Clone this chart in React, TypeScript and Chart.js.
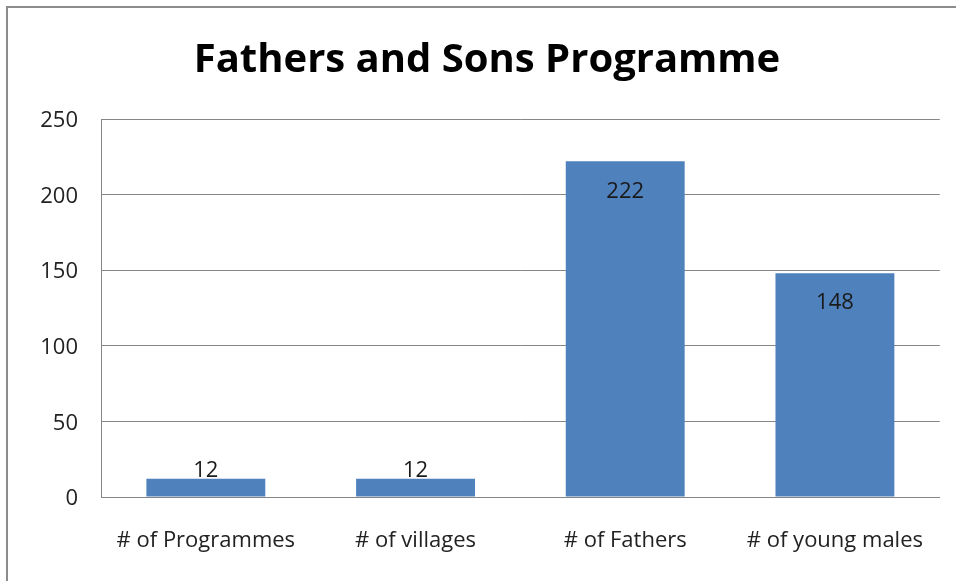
import React, { useEffect, useRef } from "react";
import { Chart, registerables } from "chart.js";

Chart.register(...registerables);

const categories = ["# of Programmes", "# of villages", "# of Fathers", "# of young males"];
const values = [12, 12, 222, 148];
const titleText = "Fathers and Sons Programme";
const yTicksMax = 250;
const yTicksStep = 50;

const FONT = "'Open Sans', Lato, sans-serif";

const labelPlugin = {
  id: "barLabels",
  afterDatasetsDraw(chart: any) {
    const ctx = chart.ctx;
    const meta = chart.getDatasetMeta(0);
    ctx.save();
    ctx.font = `22px ${FONT}`;
    ctx.fillStyle = "#1a1a1a";
    ctx.textAlign = "center";
    ctx.textBaseline = "middle";
    meta.data.forEach((bar: any, i: number) => {
      const h = bar.base - bar.y;
      const y = h > 50 ? bar.y + 30 : bar.y - 8;
      ctx.fillText(String(values[i]), bar.x, y);
    });
    ctx.restore();
  },
};

export default function App() {
  const ref = useRef<HTMLCanvasElement>(null);
  useEffect(() => {
    if (!ref.current) return;
    const chart = new Chart(ref.current, {
      type: "bar",
      data: {
        labels: categories,
        datasets: [
          {
            data: values,
            backgroundColor: "#4F81BD",
            borderWidth: 0,
            barPercentage: 0.567,
            categoryPercentage: 1,
          },
        ],
      },
      options: {
        animation: false,
        responsive: false,
        maintainAspectRatio: false,
        layout: { padding: { left: 34, right: 16, top: 37, bottom: 0 } },
        plugins: {
          legend: { display: false },
          tooltip: { enabled: false },
          title: {
            display: true,
            text: titleText,
            color: "#000",
            font: { family: FONT, size: 40, weight: "bold", lineHeight: 1.2 },
            padding: { top: 0, bottom: 34 },
          },
        },
        scales: {
          x: {
            grid: { display: false, drawTicks: false },
            border: { display: true, color: "#868686", width: 1 },
            ticks: { color: "#222", font: { family: FONT, size: 22 }, padding: 31, maxRotation: 0 },
            afterFit(scale: any) {
              scale.height = 84;
            },
          },
          y: {
            min: 0,
            max: yTicksMax,
            ticks: { stepSize: yTicksStep, color: "#222", font: { family: FONT, size: 22 }, padding: 23, labelOffset: 2 },
            grid: { color: "#868686", lineWidth: 1, drawTicks: false },
            border: { display: true, color: "#868686", width: 1 },
            afterFit(scale: any) {
              scale.width = 67;
            },
          },
        },
      },
      plugins: [labelPlugin],
    });
    return () => chart.destroy();
  }, []);
  return (
    <div style={{ position: "fixed", left: 0, top: 0, width: 956, height: 581, overflow: "hidden", background: "#fff" }}>
      <canvas ref={ref} width={956} height={581} style={{ position: "absolute", left: 0, top: 0 }} />
      <div
        style={{
          position: "absolute",
          left: 6,
          top: 6,
          width: 1000,
          height: 1000,
          border: "2px solid #8c8c8c",
          pointerEvents: "none",
        }}
      />
    </div>
  );
}
